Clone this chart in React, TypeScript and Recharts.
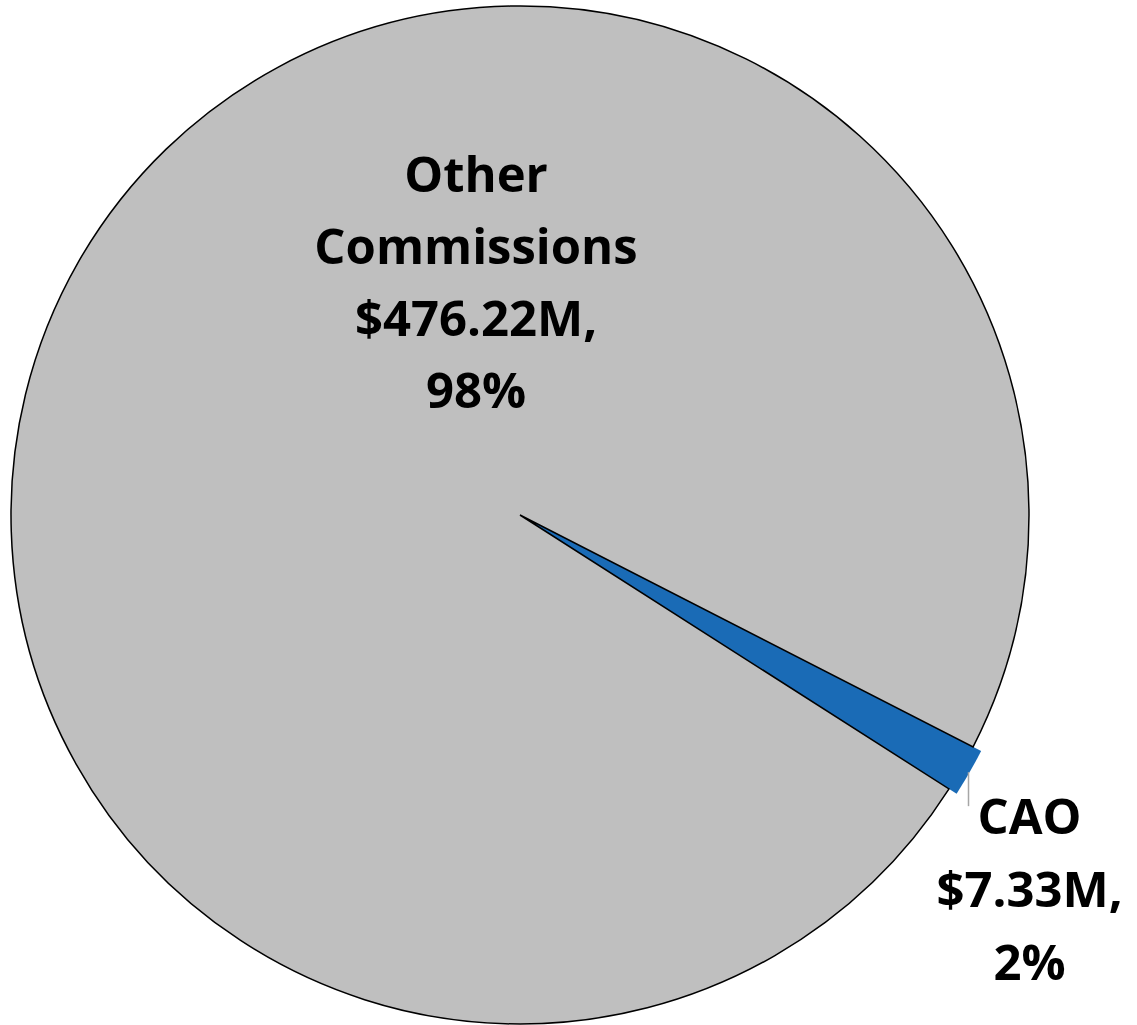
import { Cell, Pie, PieChart } from "recharts";

const categories = ["CAO", "Other Commissions"];
const amounts = [7.33, 476.22];
const colors = ["#1a6bb6", "#bfbfbf"];

const total = amounts.reduce((s, v) => s + v, 0);
const data = categories.map((name, i) => ({
  name,
  value: amounts[i],
  pct: Math.round((amounts[i] / total) * 100),
}));

const RAD = Math.PI / 180;
const FONT = "'Open Sans', Lato, sans-serif";

function renderLabel(props: any) {
  const { cx, cy, midAngle, outerRadius, index } = props;
  const d = data[index];
  const lines = [...d.name.split(" "), `$${d.value.toFixed(2)}M,`, `${d.pct}%`];
  if (index === 1) {
    // big slice: label sits inside, upper left of centre
    return (
      <text
        x={cx - 44}
        y={cy - 323}
        textAnchor="middle"
        fontFamily={FONT}
        fontWeight={700}
        fontSize={49}
        fill="#000"
      >
        {lines.map((l, i) => (
          <tspan key={i} x={cx - 44} dy={i === 0 ? 0 : 72}>
            {l}
          </tspan>
        ))}
      </text>
    );
  }
  const r = outerRadius + 8;
  const x = cx + r * Math.cos(-midAngle * RAD);
  const y = cy + r * Math.sin(-midAngle * RAD);
  return (
    <g>
      <line x1={x} y1={y} x2={x} y2={y + 34} stroke="#a6a6a6" strokeWidth={1.5} />
      <text
        x={x + 61}
        y={y + 62}
        textAnchor="middle"
        fontFamily={FONT}
        fontWeight={700}
        fontSize={49}
        fill="#000"
      >
        {lines.map((l, i) => (
          <tspan key={i} x={x + 61} dy={i === 0 ? 0 : 73}>
            {l}
          </tspan>
        ))}
      </text>
    </g>
  );
}

export default function App() {
  return (
    <div style={{ position: "absolute", left: 0, top: 0, background: "#fff" }}>
      <PieChart width={1137} height={1025} margin={{ top: 0, right: 0, bottom: 0, left: 0 }}>
        {/* blue slice, a touch larger than the grey disc */}
        <Pie
          data={data}
          dataKey="value"
          cx={520}
          cy={515}
          outerRadius={518}
          startAngle={-27.1}
          endAngle={-387.1}
          stroke="none"
          isAnimationActive={false}
        >
          {data.map((d, i) => (
            <Cell key={d.name} fill={i === 0 ? colors[0] : "none"} stroke="none" />
          ))}
        </Pie>
        <Pie
          data={data}
          dataKey="value"
          cx={520}
          cy={515}
          outerRadius={509}
          startAngle={-27.1}
          endAngle={-387.1}
          labelLine={false}
          label={renderLabel}
          isAnimationActive={false}
        >
          {data.map((d, i) => (
            <Cell
              key={d.name}
              fill={i === 0 ? "none" : colors[1]}
              stroke={i === 0 ? "none" : "#000"}
              strokeWidth={1.5}
            />
          ))}
        </Pie>
      </PieChart>
    </div>
  );
}
